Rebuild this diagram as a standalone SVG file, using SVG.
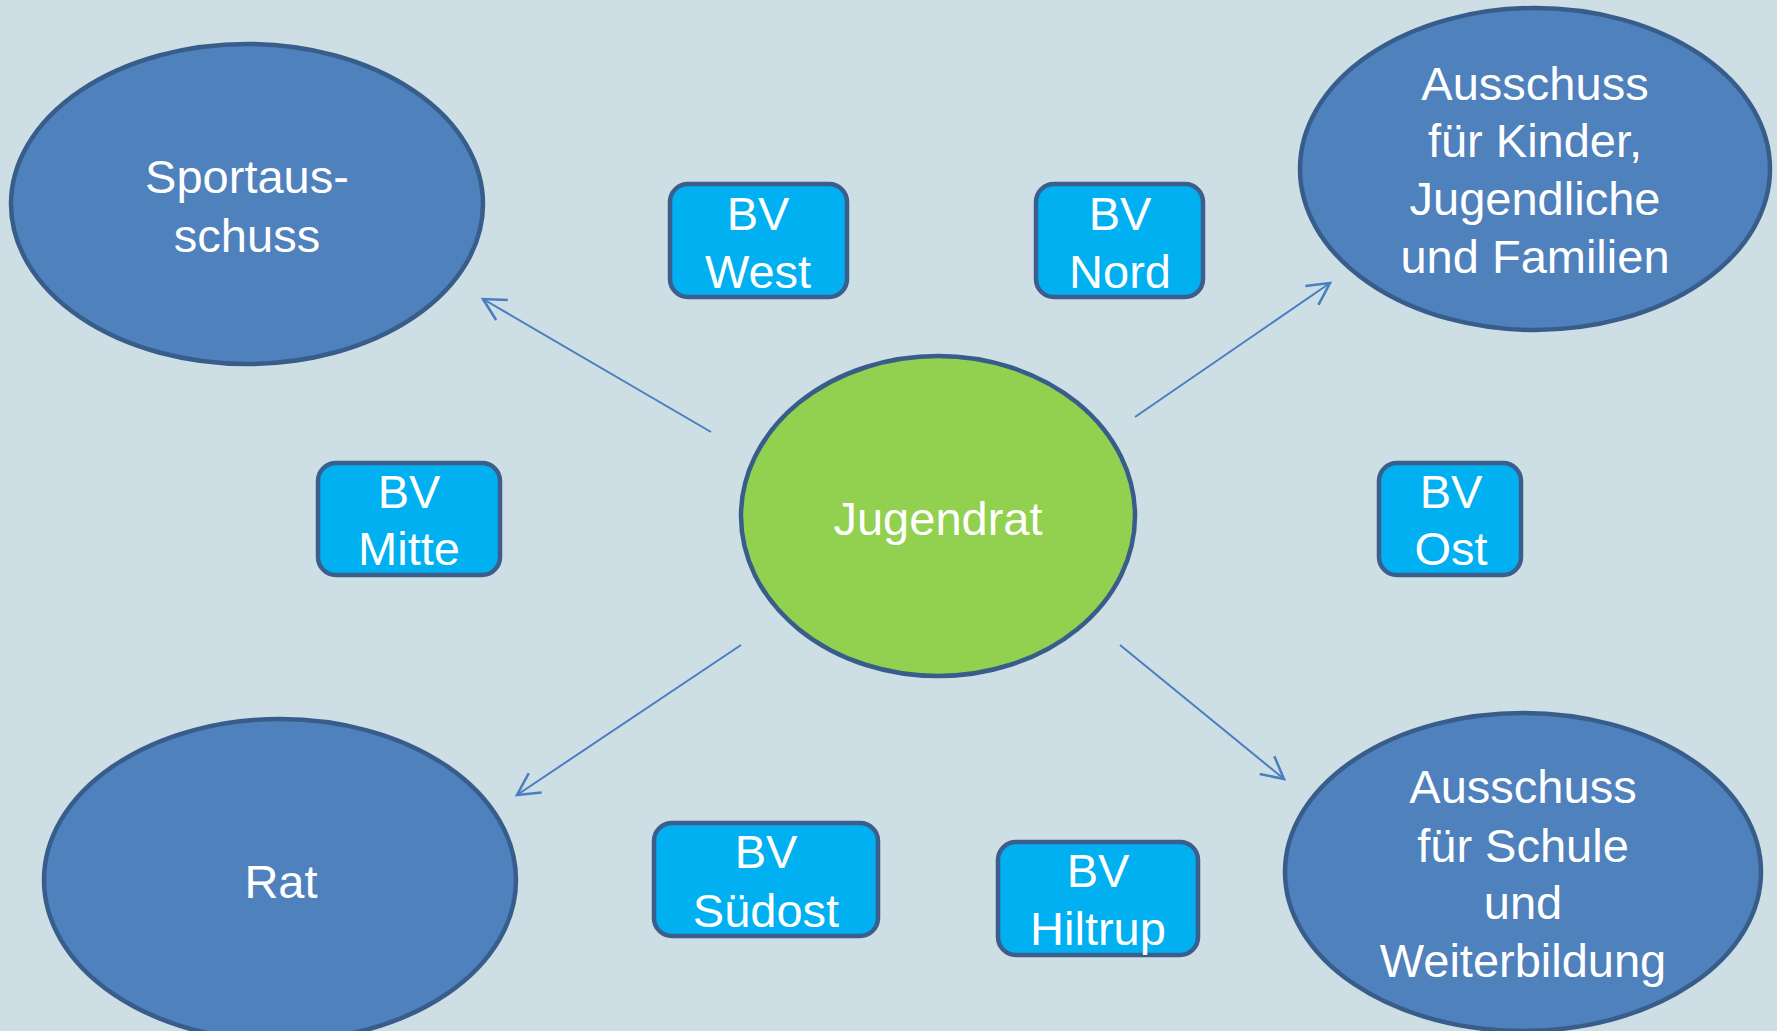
<svg xmlns="http://www.w3.org/2000/svg" width="1777" height="1031" viewBox="0 0 1777 1031">
<defs>
<style>
.ell{fill:#4F81BD;stroke:#385D8A;stroke-width:4.5}
.ctr{fill:#92D050;stroke:#385D8A;stroke-width:4.5}
.bv{fill:#00B0F0;stroke:#3B5E8C;stroke-width:4.5}
.t{font-family:"Liberation Sans",Arial,sans-serif;font-size:47px;fill:#FFFFFF;text-anchor:middle}
.con{stroke:#4A7EC0;stroke-width:2;fill:none;marker-end:url(#open)}
</style>
<marker id="open" markerUnits="userSpaceOnUse" markerWidth="30" markerHeight="30" viewBox="-22 -12 26 24" refX="0" refY="0" orient="auto">
<path d="M-19,-10 L0,0 L-19,10" fill="none" stroke="#4A7EC0" stroke-width="2.2"/>
</marker>
</defs>
<rect width="1777" height="1031" fill="#CDDEE4"/>
<g id="connectors">
<line class="con" x1="711" y1="432" x2="483" y2="299"/>
<line class="con" x1="1135" y1="417" x2="1330" y2="283"/>
<line class="con" x1="741" y1="645" x2="517" y2="795"/>
<line class="con" x1="1120" y1="645" x2="1284" y2="779"/>
</g>
<g id="sportausschuss">
<ellipse class="ell" cx="247" cy="204" rx="236" ry="160"/>
<text class="t" x="247" y="193">Sportaus-</text>
<text class="t" x="247" y="252">schuss</text>
</g>
<g id="ausschuss-kinder">
<ellipse class="ell" cx="1535" cy="169" rx="235" ry="161"/>
<text class="t" x="1535" y="100">Ausschuss</text>
<text class="t" x="1535" y="157">für Kinder,</text>
<text class="t" x="1535" y="215">Jugendliche</text>
<text class="t" x="1535" y="273">und Familien</text>
</g>
<g id="rat">
<ellipse class="ell" cx="280" cy="880" rx="236" ry="161"/>
<text class="t" x="281" y="898">Rat</text>
</g>
<g id="ausschuss-schule">
<ellipse class="ell" cx="1523" cy="872" rx="238" ry="159"/>
<text class="t" x="1523" y="803">Ausschuss</text>
<text class="t" x="1523" y="862">für Schule</text>
<text class="t" x="1523" y="919">und</text>
<text class="t" x="1523" y="977">Weiterbildung</text>
</g>
<g id="jugendrat">
<ellipse class="ctr" cx="938" cy="516" rx="197" ry="160"/>
<text class="t" x="938" y="535">Jugendrat</text>
</g>
<g id="bv-west">
<rect class="bv" x="670" y="184" width="177" height="113" rx="18"/>
<text class="t" x="758" y="230">BV</text>
<text class="t" x="758" y="288">West</text>
</g>
<g id="bv-nord">
<rect class="bv" x="1036" y="184" width="167" height="113" rx="18"/>
<text class="t" x="1120" y="230">BV</text>
<text class="t" x="1120" y="288">Nord</text>
</g>
<g id="bv-mitte">
<rect class="bv" x="318" y="463" width="182" height="112" rx="18"/>
<text class="t" x="409" y="508">BV</text>
<text class="t" x="409" y="565">Mitte</text>
</g>
<g id="bv-ost">
<rect class="bv" x="1379" y="463" width="142" height="112" rx="18"/>
<text class="t" x="1451" y="508">BV</text>
<text class="t" x="1451" y="565">Ost</text>
</g>
<g id="bv-suedost">
<rect class="bv" x="654" y="823" width="224" height="113" rx="18"/>
<text class="t" x="766" y="868">BV</text>
<text class="t" x="766" y="927">Südost</text>
</g>
<g id="bv-hiltrup">
<rect class="bv" x="998" y="842" width="200" height="113" rx="18"/>
<text class="t" x="1098" y="887">BV</text>
<text class="t" x="1098" y="945">Hiltrup</text>
</g>
</svg>
